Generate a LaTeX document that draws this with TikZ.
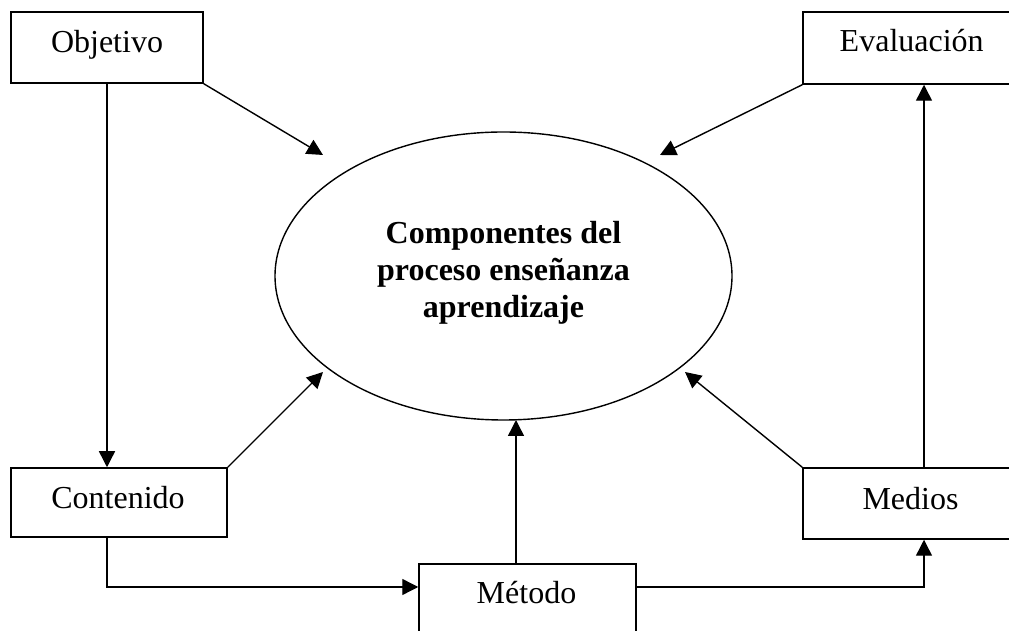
\documentclass[tikz,border=0pt]{standalone}
\usepackage{fontspec}
\setmainfont{Liberation Serif}
\usetikzlibrary{arrows.meta,shapes.geometric}
\begin{document}
\begin{tikzpicture}[x=1pt,y=1pt,
  boxnode/.style={draw,line width=1.5pt,rectangle,inner sep=0pt},
  lbl/.style={inner sep=0pt,anchor=base,font=\fontsize{32}{37}\selectfont},
  arr/.style={line width=1.4pt,-{Triangle[length=16pt,width=16pt]}}]
\useasboundingbox (0,0) rectangle (1009,631);
\clip (0,0) rectangle (1009,631);
% boxes
\node[boxnode,minimum width=192pt,minimum height=71pt] (obj) at (107,583.5) {};
\node[boxnode,minimum width=217pt,minimum height=72pt] (ev) at (911.5,583) {};
\node[boxnode,minimum width=216pt,minimum height=69pt] (cont) at (119,128.5) {};
\node[boxnode,minimum width=217pt,minimum height=71pt] (med) at (911.5,127.5) {};
\node[boxnode,minimum width=217pt,minimum height=80pt] (met) at (527.5,27) {};
\node[draw,line width=1.4pt,ellipse,inner sep=0pt,minimum width=457pt,minimum height=288pt] (el) at (503.5,355) {};
% texts
\node[lbl] (objt) at (107,578) {Objetivo};
\node[lbl] (evt) at (911.7,579) {Evaluación};
\node[lbl] (contt) at (118,122) {Contenido};
\node[lbl] (medt) at (910.5,121) {Medios};
\node[lbl] (mett) at (526.5,27) {Método};
\node[inner sep=0pt,align=center,font=\fontsize{32}{37}\selectfont\bfseries] (elt) at (503.5,358.5) {Componentes del\\proceso enseñanza\\aprendizaje};
% arrow end points near the ellipse
\coordinate (tl) at (323,476);
\coordinate (tr) at (660,476);
\coordinate (bl) at (323,259);
\coordinate (br) at (685,259);
\coordinate (mup) at (516,211);
\coordinate (lane) at (924,44);
% connectors
\draw[arr] (obj.south east) -- (tl);
\draw[arr] (ev.south west) -- (tr);
\draw[arr] (cont.north east) -- (bl);
\draw[arr] (med.north west) -- (br);
\draw[arr] (mup |- met.north) -- (mup);
\draw[arr] (obj.south) -- (obj.south |- cont.north);
\draw[arr] (obj.south |- cont.south) |- (met.west |- lane);
\draw[arr] (met.east |- lane) -| (lane |- med.south);
\draw[arr] (lane |- med.north) -- (lane |- ev.south);
\end{tikzpicture}
\end{document}
